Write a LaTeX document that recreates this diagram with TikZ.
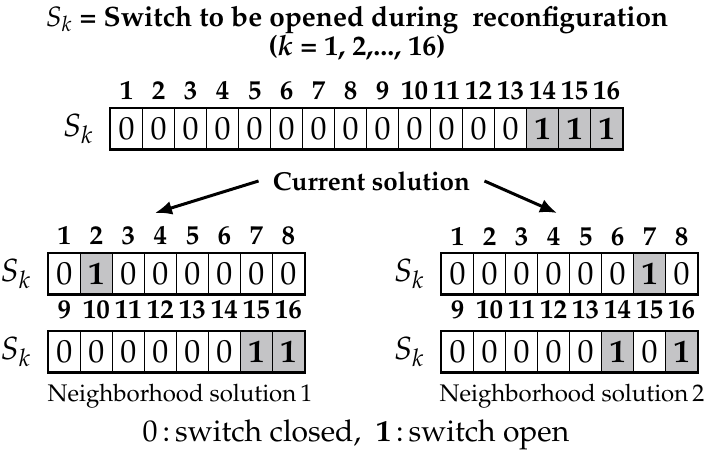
\documentclass[tikz,border=0pt]{standalone}
\usepackage[T1]{fontenc}
\usepackage{mathpazo}
\usetikzlibrary{arrows.meta,positioning}
\definecolor{opengray}{RGB}{196,196,198}

\tikzset{
  cell/.style={draw,line width=0.6pt,minimum width=16pt,minimum height=20.3pt,inner sep=0pt,font=\fontsize{16}{16}\selectfont},
  opencell/.style={cell,fill=opengray,font=\fontsize{16}{16}\selectfont\bfseries},
  frame/.style={line width=1.1pt},
  idx/.style={inner sep=0pt,font=\fontsize{13.5}{13.5}\selectfont\bfseries},
  sk/.style={inner sep=0pt,font=\fontsize{16}{16}\selectfont},
  caption/.style={inner sep=0pt,font=\fontsize{12}{12}\selectfont},
}

% #1 name, #2 left x, #3 centre y, #4 first index, #5 cells, #6 y of the numbers, #7 bits
\newcommand{\swarray}[7]{%
  \foreach \b [count=\i] in {#7}{%
    \pgfmathtruncatemacro{\k}{#4+\i-1}%
    \ifnum\b=1 \def\sty{opencell}\else\def\sty{cell}\fi
    \node[\sty] (#1\i) at ({#2+(\i-0.5)*32},#3) {\b};
    \node[idx] (#1n\i) at ({#2+(\i-0.5)*32},#6) {\k};
  }
  \draw[frame] (#11.north west) rectangle (#1#5.south east);
  \node[sk,left=8pt of #11] (#1sk) {$S_k$};
}

\begin{document}
\begin{tikzpicture}[x=0.5pt,y=-0.5pt,>=latex]
\useasboundingbox (0,0) rectangle (712,454);

\node[align=center,inner sep=0pt,font=\fontsize{14}{14.8}\selectfont\bfseries] (title) at (357,33)
  {$S_k$ = Switch to be opened during \ reconfiguration\\(\textbf{\textit{k}} = 1, 2,..., 16)};

\swarray{top}{110.7}{128.7}{1}{16}{91}{0,0,0,0,0,0,0,0,0,0,0,0,0,1,1,1}

\node[inner sep=7pt,font=\fontsize{13}{13}\selectfont\bfseries] (cur) at (371.5,181) {Current solution};
\coordinate (tipL) at (155,213);
\coordinate (tipR) at (557,213);
\draw[-{Latex[length=8.5pt,width=7pt]},line width=1.5pt] (cur.west) -- (tipL);
\draw[-{Latex[length=8.5pt,width=7pt]},line width=1.5pt] (cur.east) -- (tipR);

\swarray{nla}{48.3}{273.7}{1}{8}{236}{0,1,0,0,0,0,0,0}
\swarray{nlb}{48.3}{351.5}{9}{8}{310}{0,0,0,0,0,0,1,1}
\swarray{nra}{441.7}{273.7}{1}{8}{237}{0,0,0,0,0,0,1,0}
\swarray{nrb}{441.7}{351.5}{9}{8}{310}{0,0,0,0,0,1,0,1}

\node[caption] (sol1) at (180,396) {Neighborhood solution\,1};
\node[caption] (sol2) at (572,396) {Neighborhood solution\,2};
\node[caption,font=\fontsize{15}{15}\selectfont] (legend) at (356,435)
  {0\,:\,switch closed, \ \textbf{1}\,:\,switch open};
\end{tikzpicture}
\end{document}
